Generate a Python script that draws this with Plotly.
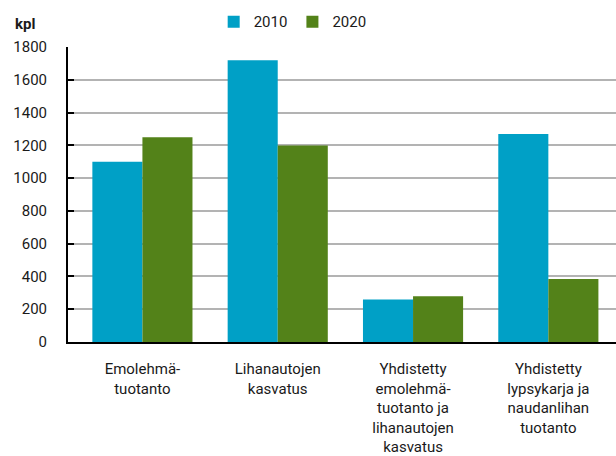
import plotly.graph_objects as go

categories = [
    "Emolehmä-<br>tuotanto",
    "Lihanautojen<br>kasvatus",
    "Yhdistetty<br>emolehmä-<br>tuotanto ja<br>lihanautojen<br>kasvatus",
    "Yhdistetty<br>lypsykarja ja<br>naudanlihan<br>tuotanto",
]
values_2010 = [1100, 1720, 260, 1270]
values_2020 = [1250, 1200, 280, 385]
y_ticks = [0, 200, 400, 600, 800, 1000, 1200, 1400, 1600, 1800]

BLUE = "#00A0C6"
GREEN = "#538219"
FONT = "Roboto"

fig = go.Figure()
fig.add_trace(go.Bar(name="2010", x=list(range(4)), y=values_2010,
                     marker=dict(color=BLUE, line=dict(width=0))))
fig.add_trace(go.Bar(name="2020", x=list(range(4)), y=values_2020,
                     marker=dict(color=GREEN, line=dict(width=0))))

fig.update_layout(
    width=616, height=456,
    margin=dict(l=68, r=0, t=46, b=114),
    barmode="group", bargap=0.26, bargroupgap=0,
    plot_bgcolor="white", paper_bgcolor="white",
    font=dict(family=FONT, size=15, color="#1a1a1a"),
    showlegend=True,
    legend=dict(orientation="h", x=0.41, xanchor="center", y=0.952, yanchor="middle",
                yref="container", font=dict(size=15), traceorder="normal"),
    xaxis=dict(
        range=[-0.55, 3.5],
        tickmode="array", tickvals=list(range(4)), ticktext=categories,
        showline=True, linecolor="black", linewidth=2,
        showgrid=False, ticks="", tickfont=dict(size=15),
        ticklabelstandoff=12,
    ),
    yaxis=dict(
        range=[0, 1800],
        tickmode="array", tickvals=y_ticks,
        showline=True, linecolor="black", linewidth=2,
        showgrid=True, gridcolor="#b3b3b3", gridwidth=1.5,
        ticks="inside", ticklen=6, tickcolor="black", tickwidth=1.5,
        tickfont=dict(size=15), ticklabelstandoff=16,
        zeroline=False,
    ),
)

fig.add_annotation(text="<b>kpl</b>", xref="paper", yref="paper", x=-0.1, y=1.04,
                   xanchor="left", yanchor="bottom", showarrow=False, font=dict(size=15))

fig.write_html("out.html")
